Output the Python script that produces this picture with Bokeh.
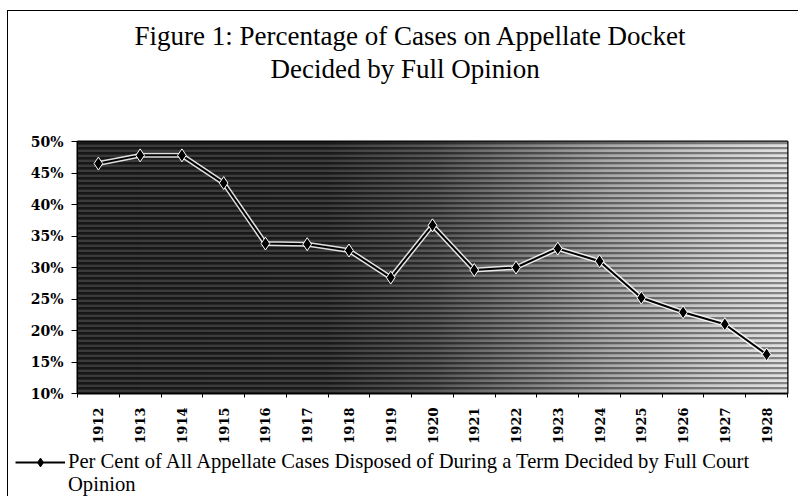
import numpy as np
from bokeh.plotting import figure
from bokeh.layouts import column
from bokeh.models import (Range1d, FixedTicker, PrintfTickFormatter, Legend,
                          LegendItem, Title, ColumnDataSource)
from bokeh.embed import file_html
from bokeh.resources import INLINE

# ---- data -------------------------------------------------------------
years = ["1912", "1913", "1914", "1915", "1916", "1917", "1918", "1919", "1920",
         "1921", "1922", "1923", "1924", "1925", "1926", "1927", "1928"]
pct_full_opinion = [46.5, 47.8, 47.8, 43.4, 33.8, 33.7, 32.7, 28.4, 36.7,
                    29.6, 30.0, 33.0, 31.0, 25.2, 22.9, 21.0, 16.2]
y_ticks = [10, 15, 20, 25, 30, 35, 40, 45, 50]
title_line1 = "Figure 1: Percentage of Cases on Appellate Docket"
title_line2 = "Decided by Full Opinion"
legend_line1 = "Per Cent of All Appellate Cases Disposed of During a Term Decided by Full Court"
legend_line2 = "Opinion"

xs = list(range(len(years)))
src = ColumnDataSource(dict(x=xs, y=pct_full_opinion))

SERIF = "Liberation Serif"
SERIF_B = "DejaVu Serif"
W_FIG = 790

p = figure(width=W_FIG, height=436, output_backend="svg", toolbar_location=None,
           x_range=Range1d(-0.5, len(years) - 0.5),
           y_range=Range1d(y_ticks[0], y_ticks[-1]),
           min_border_left=69, min_border_right=11, min_border_top=130,
           min_border_bottom=54)
p.background_fill_color = "white"
p.border_fill_color = "white"
p.outline_line_color = "black"
p.outline_line_width = 2

# ---- halftone-like shaded background ---------------------------------
W, H = 710, 252
f = np.linspace(0, 1, W)
base = np.interp(f, [0.0, 0.35, 0.5, 0.62, 0.75, 0.9, 1.0],
                 [36, 40, 66, 105, 148, 185, 205])
L = np.tile(base, (H, 1))
rows = np.arange(H)
L[rows % 5 == 0, :] *= 0.3
L[rows % 5 == 2, :] = np.minimum(255, L[rows % 5 == 2, :] + 45)
L = L.astype(np.uint32)
img = (np.uint32(255) << 24) | (L << 16) | (L << 8) | L
p.image_rgba(image=[img], x=-0.5, y=y_ticks[0],
             dw=len(years), dh=y_ticks[-1] - y_ticks[0])

# ---- series --------------------------------------------------------
p.line("x", "y", source=src, line_color="white", line_width=5, line_alpha=0.85)
p.line("x", "y", source=src, line_color="black", line_width=2)
p.scatter("x", "y", source=src, marker="diamond", size=13,
          fill_color="black", line_color="white", line_width=1)

# ---- axes ---------------------------------------------------------------
boundaries = [i - 0.5 for i in range(len(years) + 1)]
p.xaxis.ticker = FixedTicker(ticks=xs, minor_ticks=boundaries)
p.xaxis.major_label_overrides = {i: y for i, y in enumerate(years)}
p.xaxis.major_label_orientation = np.pi / 2
p.xaxis.major_tick_line_color = None
p.xaxis.minor_tick_line_color = "black"
p.xaxis.minor_tick_in = 0
p.xaxis.minor_tick_out = 4
p.xaxis.axis_line_color = "black"
p.xaxis.major_label_text_font = SERIF_B
p.xaxis.major_label_text_font_style = "bold"
p.xaxis.major_label_text_font_size = "13px"
p.xaxis.major_label_text_color = "black"
p.xaxis.major_label_standoff = 8

p.yaxis.ticker = FixedTicker(ticks=y_ticks)
p.yaxis.formatter = PrintfTickFormatter(format="%d%%")
p.yaxis.minor_tick_line_color = None
p.yaxis.major_tick_in = 0
p.yaxis.major_tick_out = 6
p.yaxis.axis_line_color = "black"
p.yaxis.major_label_text_font = SERIF_B
p.yaxis.major_label_text_font_style = "bold"
p.yaxis.major_label_text_font_size = "14px"
p.yaxis.major_label_text_color = "black"
p.yaxis.major_label_standoff = 8

p.xgrid.grid_line_color = None
p.xgrid.minor_grid_line_color = "black"
p.xgrid.minor_grid_line_alpha = 0.55
p.ygrid.grid_line_color = None

# ---- titles ----------------------------------------------------------
spacer = Title(text=" ", text_font_size="1px", standoff=54)
t2 = Title(text=title_line2, align="left", offset=193, text_font=SERIF,
           text_font_size="27px", text_font_style="normal", standoff=2,
           text_color="black")
t1 = Title(text=title_line1, align="left", offset=57, text_font=SERIF,
           text_font_size="27px", text_font_style="normal", standoff=0,
           text_color="black")
p.add_layout(spacer, "above")
p.add_layout(t2, "above")
p.add_layout(t1, "above")

# ---- legend (in its own strip below the chart) -------------------------
# the strip shows the same series, kept out of its visible range, so that
# only the legend keys are drawn
pl = figure(width=W_FIG, height=49, output_backend="svg", toolbar_location=None,
            x_range=Range1d(0, 1), y_range=Range1d(-2, -1),
            min_border_left=0, min_border_right=0, min_border_top=0,
            min_border_bottom=0)
if "frame_align" in pl.properties():
    pl.frame_align = False
    p.frame_align = False
pl.axis.visible = False
pl.grid.visible = False
pl.outline_line_color = None
pl.border_fill_color = "white"
pl.background_fill_color = "white"
k_line = pl.line("x", "y", source=src, line_color="black", line_width=2)
k_mark = pl.scatter("x", "y", source=src, marker="diamond", size=12,
                    fill_color="black", line_color="black")
legend = Legend(items=[LegendItem(label=legend_line1, renderers=[k_line, k_mark]),
                       LegendItem(label=legend_line2, renderers=[])],
                location=(7, 0), orientation="vertical",
                label_text_font=SERIF, label_text_font_size="20.6px",
                label_text_color="black", glyph_width=50, glyph_height=22,
                label_height=22, label_standoff=3, padding=0, margin=0,
                spacing=0, border_line_alpha=0, background_fill_alpha=0)
pl.add_layout(legend, "center")

layout = column(p, pl, spacing=0)
layout.styles = {"margin-left": "7px", "margin-top": "10px",
                 "border-left": "1px solid black", "border-top": "1px solid black"}
open("out.html", "w").write(file_html(layout, INLINE))
